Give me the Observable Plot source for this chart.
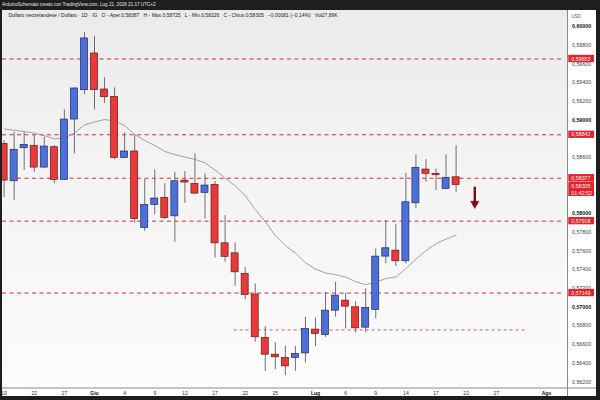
<!DOCTYPE html>
<html>
<head>
<meta charset="utf-8">
<script src="https://cdn.jsdelivr.net/npm/d3@7"></script>
<script src="https://cdn.jsdelivr.net/npm/@observablehq/plot@0.6"></script>
<style>
  html, body { margin: 0; padding: 0; background: #1e1e1e; }
  #frame { position: relative; width: 600px; height: 400px; background: #1e1e1e; overflow: hidden; }
  #hdr { height: 10px; line-height: 10px; padding-left: 2px; color: #e6e6e6; font-family: "Liberation Sans", Arial, sans-serif; font-size: 4.6px; white-space: nowrap; }
  #chart { position: absolute; left: 2px; top: 10px; width: 594px; height: 386px; }
</style>
</head>
<body>
<div id="frame">
  <div id="hdr">ArduinoSchemato creato con TradingView.com, Lug 21, 2026 21:17 UTC+2</div>
  <div id="chart"></div>
</div>
<script>
// ---- data (NZD/USD daily) ----
const dates = ["2026-05-19","2026-05-20","2026-05-21","2026-05-22","2026-05-25","2026-05-26","2026-05-27","2026-05-28","2026-05-29",
  "2026-06-01","2026-06-02","2026-06-03","2026-06-04","2026-06-05","2026-06-08","2026-06-09","2026-06-10","2026-06-11","2026-06-12",
  "2026-06-15","2026-06-16","2026-06-17","2026-06-18","2026-06-19","2026-06-22","2026-06-23","2026-06-24","2026-06-25","2026-06-26",
  "2026-06-29","2026-06-30","2026-07-01","2026-07-02","2026-07-03","2026-07-06","2026-07-07","2026-07-08","2026-07-09","2026-07-10",
  "2026-07-13","2026-07-14","2026-07-15","2026-07-16","2026-07-17","2026-07-20","2026-07-21"];
const open  = [0.58745,0.58345,0.58698,0.58723,0.58491,0.58709,0.58360,0.59005,0.59319,0.59711,0.59326,0.59248,0.58595,0.58663,0.57846,0.58092,
  0.58167,0.57970,0.58352,0.58317,0.58221,0.58306,0.57681,0.57574,0.57354,0.57133,0.56669,0.56490,0.56455,0.56455,0.56504,0.56758,
  0.56701,0.56961,0.57068,0.56997,0.56779,0.56969,0.57539,0.57603,0.57489,0.58109,0.58470,0.58424,0.58263,0.58387];
const high  = [0.58780,0.58870,0.58870,0.58834,0.58816,0.58725,0.59109,0.59345,0.59936,0.59896,0.59451,0.59344,0.58863,0.58841,0.58363,0.58467,
  0.58320,0.58441,0.58449,0.58638,0.58424,0.58342,0.57978,0.57686,0.57425,0.57247,0.56790,0.56616,0.56579,0.56576,0.56890,0.56883,
  0.57157,0.57264,0.57146,0.57058,0.57194,0.57621,0.57924,0.57881,0.58430,0.58627,0.58577,0.58477,0.58627,0.58725];
const low   = [0.58170,0.58140,0.58460,0.58441,0.58485,0.58317,0.58355,0.58638,0.59272,0.59109,0.59179,0.58574,0.58590,0.57896,0.57810,0.57986,
  0.57935,0.57692,0.58109,0.58202,0.57942,0.57525,0.57478,0.57221,0.57079,0.56622,0.56309,0.56330,0.56266,0.56312,0.56402,0.56576,
  0.56676,0.56890,0.56765,0.56723,0.56723,0.56872,0.57461,0.57432,0.57461,0.58050,0.58334,0.58245,0.58263,0.58226];
const close = [0.58352,0.58681,0.58734,0.58491,0.58716,0.58360,0.59005,0.59337,0.59872,0.59319,0.59244,0.58595,0.58663,0.57942,0.58092,0.58160,
  0.57953,0.58345,0.58331,0.58213,0.58299,0.57681,0.57536,0.57371,0.57129,0.56676,0.56490,0.56462,0.56365,0.56498,0.56765,0.56712,
  0.56961,0.57122,0.57004,0.56772,0.56990,0.57539,0.57628,0.57489,0.58120,0.58488,0.58424,0.58409,0.58380,0.58305];
const ma    = [0.58905,0.58890,0.58877,0.58860,0.58834,0.58797,0.58807,0.58860,0.58948,0.58978,0.59005,0.58989,0.58941,0.58845,0.58780,0.58727,
  0.58663,0.58630,0.58604,0.58579,0.58542,0.58465,0.58379,0.58296,0.58192,0.58042,0.57914,0.57764,0.57657,0.57577,0.57475,0.57405,
  0.57363,0.57346,0.57320,0.57271,0.57239,0.57266,0.57304,0.57322,0.57411,0.57512,0.57603,0.57678,0.57726,0.57769];

const levels = [0.59653, 0.58842, 0.58377, 0.57918, 0.57149];
const minorLevel = [{y: 0.56755, from: 22.9, to: 51.9}];
const lastPrice = [{price: 0.58305, countdown: "01:42:52"}];
const arrowAnn = [{x: 46.86, from: 0.58281, to: 0.58086, tip: 0.58059}];

const xTickIdx   = [0, 3, 6, 9, 12, 15, 18, 21, 24, 27, 31, 34, 37, 40, 43, 46, 49, 54];
const xTickText  = ["19","22","27","Giu","4","9","12","17","22","25","Lug","6","9","14","17","22","27","Ago"];
const monthNames = ["Giu","Lug","Ago"];
// tick labels visible on the price scale (0,58200 / 0,58400 / 0,58800 sit under the price tags)
const yTicks = [0.562,0.564,0.566,0.568,0.570,0.572,0.574,0.576,0.578,0.580,0.586,0.590,0.592,0.594,0.596,0.598,0.600];
const yBold  = [0.570,0.580,0.590,0.600];

const legendText = "Dollaro neozelandese / Dollaro · 1D · IG   O - Aper.0,58387   H - Max.0,58725   L - Min.0,58226   C - Chius.0,58305   \u22120,00081 (\u22120,14%)   Vol27,89K";
const currency = "USD";

// ---- build ----
const candles = dates.map((d, i) => ({i, date: d, o: open[i], h: high[i], l: low[i], c: close[i]}));
const maData = ma.map((v, i) => ({i, v}));
const fmt = v => v.toFixed(5).replace(".", ",");
const tickLabel = new Map(xTickIdx.map((k, j) => [k, xTickText[j]]));
const isMonth = k => monthNames.includes(tickLabel.get(k));
const yNormal = yTicks.filter(t => !yBold.includes(t));

const X0 = -0.159, X1 = 56.09, Y0 = 0.561337, Y1 = 0.601711;
const UP = "#4d70d8", UPS = "#1d2b66", DN = "#e8393b", DNS = "#6b1616", LBL = "#e5212b";
const axisX2 = 59.3, labX1 = 56.22, labX2 = 58.78, labTextX = 56.47, half = 0.00039;

const chart = Plot.plot({
  width: 594, height: 386,
  marginLeft: 0, marginRight: 29, marginTop: 0, marginBottom: 8.5,
  x: {type: "linear", domain: [X0, X1]},
  y: {type: "linear", domain: [Y0, Y1]},
  style: {background: "linear-gradient(180deg, #ebebeb 0%, #f4f4f4 45%, #fcfcfc 100%)", fontFamily: "'Liberation Sans', Arial, sans-serif", color: "#333"},
  marks: [
    // axis areas
    Plot.rect([0], {x1: X1, x2: axisX2, y1: 0.5595, y2: 0.6030, fill: "white"}),
    Plot.rect([0], {x1: -1, x2: axisX2, y1: 0.5595, y2: Y0, fill: "white"}),
    // horizontal levels
    Plot.ruleY(levels, {x1: X0, x2: 55.6, stroke: "#e02a2e", strokeWidth: 1, strokeDasharray: "4,3.5"}),
    Plot.ruleY(minorLevel, {y: "y", x1: "from", x2: "to", stroke: "#c8323c", strokeWidth: 0.8, strokeDasharray: "3,3"}),
    // moving average
    Plot.line(maData, {x: "i", y: "v", stroke: "#8c8c8c", strokeWidth: 0.8}),
    // candles
    Plot.ruleX(candles, {x: "i", y1: "l", y2: "h", stroke: "#707070", strokeWidth: 1}),
    Plot.rect(candles, {x1: d => d.i - 0.35, x2: d => d.i + 0.35, y1: "o", y2: "c",
      fill: d => d.c >= d.o ? UP : DN, stroke: d => d.c >= d.o ? UPS : DNS, strokeWidth: 0.7}),
    // arrow annotation
    Plot.ruleX(arrowAnn, {x: "x", y1: "from", y2: "to", stroke: "#7d0f1b", strokeWidth: 2.4}),
    Plot.dot(arrowAnn, {x: "x", y: d => d.tip + 0.00047, symbol: "triangle", r: 3.1, rotate: 180, fill: "#7d0f1b", stroke: "#7d0f1b", strokeWidth: 0.5}),
    // frame lines
    Plot.ruleX([X1], {y1: 0.5595, y2: 0.6030, stroke: "#8a8a8a", strokeWidth: 1}),
    Plot.ruleY([Y0], {x1: -1, x2: axisX2, stroke: "#8a8a8a", strokeWidth: 1}),
    // axes
    Plot.axisX(xTickIdx.filter(k => !isMonth(k)), {tickSize: 0, tickPadding: 3, fontSize: 5, tickFormat: k => tickLabel.get(k), label: null, color: "#333"}),
    Plot.axisX(xTickIdx.filter(isMonth), {tickSize: 0, tickPadding: 3, fontSize: 5, fontWeight: "bold", tickFormat: k => tickLabel.get(k), label: null, color: "#111"}),
    Plot.axisY(yNormal, {anchor: "right", tickSize: 0, tickPadding: 4.5, fontSize: 5.3, tickFormat: fmt, label: null, color: "#444"}),
    Plot.axisY(yBold, {anchor: "right", tickSize: 0, tickPadding: 4.5, fontSize: 5.3, fontWeight: "bold", tickFormat: fmt, label: null, color: "#111"}),
    // price labels
    Plot.rect(levels, {x1: labX1, x2: labX2, y1: d => d - half, y2: d => d + half, fill: LBL}),
    Plot.text(levels, {x: labTextX, y: d => d, text: fmt, textAnchor: "start", fill: "white", fontSize: 5.3}),
    Plot.rect(lastPrice, {x1: labX1, x2: labX2, y1: d => d.price + 0.0003, y2: d => d.price - 0.00123, fill: LBL}),
    Plot.text(lastPrice, {x: labTextX, y: d => d.price - 0.00046, text: d => fmt(d.price) + "\n" + d.countdown, textAnchor: "start", fill: "white", fontSize: 5.3, lineHeight: 1.25}),
    // legend + currency
    Plot.text([legendText], {frameAnchor: "top-left", dx: 6, dy: 3.2, fontSize: 5, fill: "#222", textAnchor: "start", lineAnchor: "top"}),
    Plot.text([currency], {x: labTextX, y: 0.60107, text: d => d, textAnchor: "start", fontSize: 4.5, fill: "#555"})
  ]
});
document.getElementById("chart").appendChild(chart);
</script>
</body>
</html>
